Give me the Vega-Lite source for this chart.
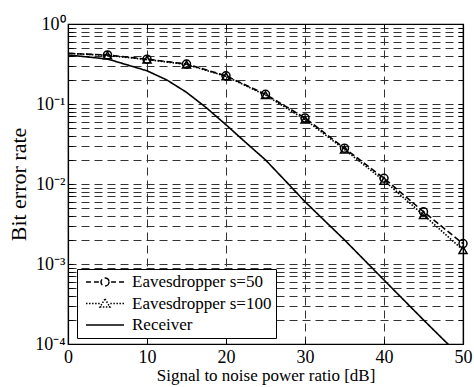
{
  "$schema": "https://vega.github.io/schema/vega-lite/v6.json",
  "width": 395,
  "height": 320,
  "autosize": "none",
  "padding": {"left": 68, "top": 24, "right": 11, "bottom": 43},
  "background": "white",
  "config": {
    "view": {"stroke": "black", "strokeWidth": 1.2},
    "font": "Liberation Serif",
    "axis": {"labelFont": "Liberation Serif", "titleFont": "Liberation Serif", "labelColor": "black", "titleColor": "black", "titleFontWeight": "normal", "domainColor": "black", "tickColor": "black"}
  },
  "data": {
    "values": [
      {"series": "Eavesdropper s=50", "x": 0, "y": 0.43},
      {"series": "Eavesdropper s=50", "x": 5, "y": 0.41},
      {"series": "Eavesdropper s=50", "x": 10, "y": 0.363},
      {"series": "Eavesdropper s=50", "x": 15, "y": 0.316},
      {"series": "Eavesdropper s=50", "x": 20, "y": 0.225},
      {"series": "Eavesdropper s=50", "x": 25, "y": 0.132},
      {"series": "Eavesdropper s=50", "x": 30, "y": 0.067},
      {"series": "Eavesdropper s=50", "x": 35, "y": 0.028},
      {"series": "Eavesdropper s=50", "x": 40, "y": 0.0118},
      {"series": "Eavesdropper s=50", "x": 45, "y": 0.0045},
      {"series": "Eavesdropper s=50", "x": 50, "y": 0.0018},
      {"series": "Eavesdropper s=100", "x": 0, "y": 0.43},
      {"series": "Eavesdropper s=100", "x": 5, "y": 0.405},
      {"series": "Eavesdropper s=100", "x": 10, "y": 0.36},
      {"series": "Eavesdropper s=100", "x": 15, "y": 0.312},
      {"series": "Eavesdropper s=100", "x": 20, "y": 0.222},
      {"series": "Eavesdropper s=100", "x": 25, "y": 0.129},
      {"series": "Eavesdropper s=100", "x": 30, "y": 0.064},
      {"series": "Eavesdropper s=100", "x": 35, "y": 0.027},
      {"series": "Eavesdropper s=100", "x": 40, "y": 0.011},
      {"series": "Eavesdropper s=100", "x": 45, "y": 0.0041},
      {"series": "Eavesdropper s=100", "x": 50, "y": 0.0015},
      {"series": "Receiver", "x": 0, "y": 0.41},
      {"series": "Receiver", "x": 5, "y": 0.365},
      {"series": "Receiver", "x": 10, "y": 0.26},
      {"series": "Receiver", "x": 12.5, "y": 0.2},
      {"series": "Receiver", "x": 15, "y": 0.14},
      {"series": "Receiver", "x": 17.5, "y": 0.09},
      {"series": "Receiver", "x": 20, "y": 0.055},
      {"series": "Receiver", "x": 22.5, "y": 0.033},
      {"series": "Receiver", "x": 25, "y": 0.02},
      {"series": "Receiver", "x": 27.5, "y": 0.011},
      {"series": "Receiver", "x": 30, "y": 0.006},
      {"series": "Receiver", "x": 35, "y": 0.002},
      {"series": "Receiver", "x": 40, "y": 0.00063},
      {"series": "Receiver", "x": 45, "y": 0.0002},
      {"series": "Receiver", "x": 50, "y": 0.000065}
    ]
  },
  "layer": [
    {
      "mark": {"type": "line", "clip": true, "strokeWidth": 1.6},
      "encoding": {
        "x": {"field": "x", "type": "quantitative", "scale": {"domain": [0, 50], "nice": false, "zero": false},
          "axis": {"orient": "bottom", "values": [0, 10, 20, 30, 40, 50], "title": "Signal to noise power ratio [dB]", "titleFontSize": 17, "labelFontSize": 18, "tickSize": -5, "labelPadding": 9, "titlePadding": 1, "labelFlush": false,
            "grid": true, "gridColor": "#333", "gridWidth": 1, "gridDash": [8, 5], "domainWidth": 1.2}},
        "y": {"field": "y", "type": "quantitative", "scale": {"type": "log", "domain": [0.0001, 1], "nice": false},
          "axis": {"orient": "left", "title": "Bit error rate", "titleFontSize": 22, "labelFontSize": 18, "tickSize": -5, "labelPadding": 8, "titlePadding": 4,
            "values": [0.0001, 0.0002, 0.0003, 0.0004, 0.0005, 0.0006, 0.0007, 0.0008, 0.0009, 0.001, 0.002, 0.003, 0.004, 0.005, 0.006, 0.007, 0.008, 0.009, 0.01, 0.02, 0.03, 0.04, 0.05, 0.06, 0.07, 0.08, 0.09, 0.1, 0.2, 0.3, 0.4, 0.5, 0.6, 0.7, 0.8, 0.9, 1],
            "labelExpr": "datum.value == 1 ? '10⁰' : datum.value == 0.1 ? '10⁻¹' : datum.value == 0.01 ? '10⁻²' : datum.value == 0.001 ? '10⁻³' : datum.value == 0.0001 ? '10⁻⁴' : ''",
            "labelFlush": false, "labelOverlap": false,
            "grid": true, "gridColor": "#333", "gridWidth": 1, "gridDash": [8, 5], "domainWidth": 1.2}},
        "strokeDash": {"field": "series", "type": "nominal", "legend": null,
          "scale": {"domain": ["Eavesdropper s=50", "Eavesdropper s=100", "Receiver"], "range": [[6, 3], [1.5, 1.5], [1, 0]]}},
        "color": {"field": "series", "type": "nominal",
          "scale": {"domain": ["Eavesdropper s=50", "Eavesdropper s=100", "Receiver"], "range": ["black", "black", "black"]},
          "legend": {
            "title": null, "orient": "none", "legendX": 9, "legendY": 245,
            "strokeColor": "black", "fillColor": "white", "padding": 4,
            "labelFont": "Liberation Serif", "labelFontSize": 17, "labelColor": "black",
            "symbolType": "stroke", "symbolSize": 1444, "symbolStrokeWidth": 1.5, "labelOffset": 7, "rowPadding": 3.5, "symbolOffset": 4, "clipHeight": 18,
            "encode": {"symbols": {"update": {
              "shape": {"signal": "datum.value === 'Receiver' ? 'M-1,0H1' : datum.value === 'Eavesdropper s=50' ? 'M-1,0H-0.74M-0.58,0H-0.32M0.32,0H0.58M0.74,0H1M0.21,0A0.21,0.21,0,1,1,-0.21,0A0.21,0.21,0,1,1,0.21,0Z' : 'M-1,0H-0.92M-0.84,0H-0.76M-0.68,0H-0.6M-0.52,0H-0.44M-0.36,0H-0.28M0.28,0H0.36M0.44,0H0.52M0.6,0H0.68M0.76,0H0.84M0.92,0H1M0,-0.24L0.26,0.18L-0.26,0.18Z'"},
              "fill": {"value": "transparent"},
              "stroke": {"value": "black"},
              "strokeDash": {"value": [1, 0]}
            }}}
          }}
      }
    },
    {
      "transform": [{"filter": "datum.series != 'Receiver' && datum.x > 0"}],
      "mark": {"type": "point", "filled": false, "size": 64, "strokeWidth": 1.5, "color": "black", "opacity": 1},
      "encoding": {
        "x": {"field": "x", "type": "quantitative",
          "axis": {"orient": "top", "values": [0, 10, 20, 30, 40, 50], "labels": false, "title": null, "tickSize": -5, "grid": false, "domainWidth": 1.2}},
        "y": {"field": "y", "type": "quantitative",
          "axis": {"orient": "right", "labels": false, "title": null, "tickSize": -5, "grid": false, "domainWidth": 1.2,
            "values": [0.0001, 0.0002, 0.0003, 0.0004, 0.0005, 0.0006, 0.0007, 0.0008, 0.0009, 0.001, 0.002, 0.003, 0.004, 0.005, 0.006, 0.007, 0.008, 0.009, 0.01, 0.02, 0.03, 0.04, 0.05, 0.06, 0.07, 0.08, 0.09, 0.1, 0.2, 0.3, 0.4, 0.5, 0.6, 0.7, 0.8, 0.9, 1]}},
        "shape": {"field": "series", "type": "nominal", "legend": null,
          "scale": {"domain": ["Eavesdropper s=50", "Eavesdropper s=100"], "range": ["circle", "triangle-up"]}}
      }
    }
  ],
  "resolve": {"axis": {"x": "independent", "y": "independent"}}
}
